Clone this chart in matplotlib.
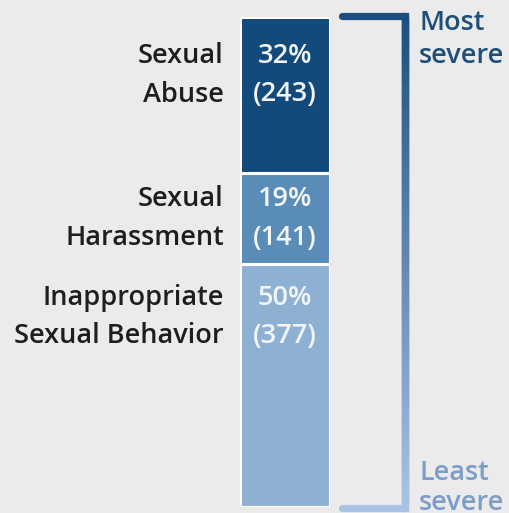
import matplotlib.pyplot as plt
import numpy as np
from matplotlib.collections import LineCollection
from matplotlib.colors import LinearSegmentedColormap
import matplotlib.transforms as mtransforms

plt.rcParams['font.family'] = ['Open Sans', 'DejaVu Sans']

categories = ["Sexual\nAbuse", "Sexual\nHarassment", "Inappropriate\nSexual Behavior"]
counts = [243, 141, 377]
percents = [32, 19, 50]
colors = ["#124a7b", "#5a8cb8", "#8eb0d3"]
label_pad = [18, 8.5, 14]   # points from segment top to first text line

bg = "#ebebeb"
W, H = 509, 513
fig = plt.figure(figsize=(W / 100, H / 100), dpi=100, facecolor=bg)

# the stacked bar lives in its own axes, positioned in pixels
ax = fig.add_axes([240 / W, (H - 507) / H, 90 / W, 490 / H])
ax.set_facecolor(bg)
total = sum(counts)
bottoms = np.concatenate([[0], np.cumsum(counts)[:-1]])
ax.bar([0] * len(counts), counts, bottom=bottoms, width=1.0, color=colors,
       edgecolor="white", linewidth=2.2)
ax.set_xlim(-0.5, 0.5)
ax.set_ylim(total, 0)
ax.axis("off")

blend = mtransforms.blended_transform_factory(ax.transAxes, ax.transData)
fs = 19.5

# labels: category on the left, percent and count inside the bar
for cat, n, p, b, pad in zip(categories, counts, percents, bottoms, label_pad):
    ax.annotate(cat, xy=(-0.18, b), xycoords=blend, xytext=(0, -pad), textcoords="offset points",
                ha="right", va="top", fontsize=fs, color="#1e1e1e", linespacing=1.5,
                fontweight=600)
    ax.annotate(f"{p}%\n({n})", xy=(0.5, b), xycoords=blend, xytext=(0, -pad), textcoords="offset points",
                ha="center", va="top", fontsize=fs, color="#f2f5f9", linespacing=1.5,
                fontweight=600)

# severity bracket with a dark-to-light gradient
dark, light = "#1a4e7e", "#a9c2e4"
cmap = LinearSegmentedColormap.from_list("sev", [dark, light])
xb0, xb1 = 1.13, 1.833
ys = np.linspace(-2, total + 1, 200)
segs = [[(xb1, ys[i]), (xb1, ys[i + 1])] for i in range(len(ys) - 1)]
lc = LineCollection(segs, colors=cmap(np.linspace(0, 1, len(segs))), linewidths=5.2,
                    transform=blend, clip_on=False, capstyle="projecting")
ax.add_collection(lc)
ax.plot([xb0, xb1], [-2, -2], color=dark, lw=5.2, solid_capstyle="round", transform=blend, clip_on=False)
ax.plot([xb0, xb1], [total + 1, total + 1], color=light, lw=5.2, solid_capstyle="round",
        transform=blend, clip_on=False)

ax.text(1.99, 35, "Most\nsevere", transform=blend, ha="left", va="center", fontsize=fs,
        color="#1f4e79", linespacing=1.2, fontweight=600)
ax.text(1.99, total - 30, "Least\nsevere", transform=blend, ha="left", va="center", fontsize=fs,
        color="#7b9dc8", linespacing=1.1, fontweight=600)

fig.savefig("out.png", dpi=100, facecolor=bg)
